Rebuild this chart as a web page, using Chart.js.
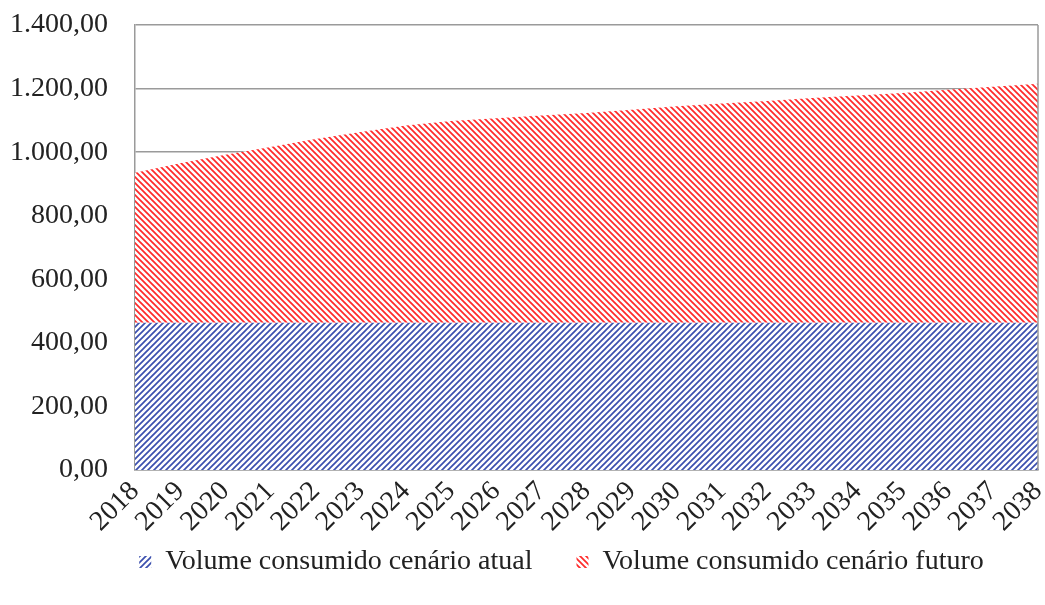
<!DOCTYPE html>
<html>
<head>
<meta charset="utf-8">
<script src="https://cdn.jsdelivr.net/npm/chart.js@4.4.1/dist/chart.umd.min.js"></script>
<style>
  html, body { margin: 0; padding: 0; background: #fff; }
  #wrap { width: 1045px; height: 605px; position: relative; }
</style>
</head>
<body>
<div id="wrap"><canvas id="chart"></canvas></div>
<script>
// dados
let anos = ['2018', '2019', '2020', '2021', '2022', '2023', '2024', '2025', '2026', '2027', '2028',
            '2029', '2030', '2031', '2032', '2033', '2034', '2035', '2036', '2037', '2038'];
let volumeAtual = [463, 463, 463, 463, 463, 463, 463, 463, 463, 463, 463,
                   463, 463, 463, 463, 463, 463, 463, 463, 463, 463];
let volumeFuturo = [472, 502, 529, 553, 578, 600, 621, 635, 644, 652, 660,
                    670, 681, 690, 698, 707, 715, 723, 733, 743, 752];
let nomesSeries = ['Volume consumido cenário atual', 'Volume consumido cenário futuro'];

// não cortar os rótulos dos eixos na caixa da escala
Chart.Scale.prototype._computeLabelArea = function() { return undefined; };

// hachuras
function hachura(cor, subindo) {
  let s = 6;
  let c = document.createElement('canvas');
  c.width = s; c.height = s;
  let g = c.getContext('2d');
  g.fillStyle = '#fff';
  g.fillRect(0, 0, s, s);
  g.strokeStyle = cor;
  g.lineWidth = 1.7;
  g.beginPath();
  if (subindo) {
    g.moveTo(-1, s + 1); g.lineTo(s + 1, -1);
    g.moveTo(-1, 1); g.lineTo(1, -1);
    g.moveTo(s - 1, s + 1); g.lineTo(s + 1, s - 1);
  } else {
    g.moveTo(-1, -1); g.lineTo(s + 1, s + 1);
    g.moveTo(s - 1, -1); g.lineTo(s + 1, 1);
    g.moveTo(-1, s - 1); g.lineTo(1, s + 1);
  }
  g.stroke();
  return document.getElementById('chart').getContext('2d').createPattern(c, 'repeat');
}

function formatoBR(v) {
  let partes = Math.abs(v).toFixed(2).split('.');
  let inteiro = partes[0].replace(/\B(?=(\d{3})+(?!\d))/g, '.');
  return (v < 0 ? '-' : '') + inteiro + ',' + partes[1];
}

let corGrade = '#9a9a9a';

// borda direita da área do gráfico
let bordaPlugin = {
  id: 'borda',
  afterDatasetsDraw(chart) {
    let a = chart.chartArea;
    let ctx = chart.ctx;
    ctx.save();
    ctx.strokeStyle = corGrade;
    ctx.lineWidth = 1.5;
    ctx.beginPath();
    ctx.moveTo(a.right, a.top);
    ctx.lineTo(a.right, a.bottom);
    ctx.stroke();
    ctx.restore();
  }
};

let fonte = 'Liberation Serif';

new Chart(document.getElementById('chart'), {
  type: 'line',
  data: {
    labels: anos,
    datasets: [{
      label: nomesSeries[0],
      data: volumeAtual,
      backgroundColor: hachura('#3b4fae', true),
      borderWidth: 0,
      pointRadius: 0,
      fill: 'origin'
    }, {
      label: nomesSeries[1],
      data: volumeFuturo,
      backgroundColor: hachura('#ff2a2a', false),
      borderWidth: 0,
      pointRadius: 0,
      fill: '-1'
    }]
  },
  options: {
    responsive: true,
    maintainAspectRatio: false,
    animation: false,
    layout: { padding: { top: 25, right: 7, left: 85, bottom: 19 } },
    plugins: {
      tooltip: { enabled: false },
      legend: {
        position: 'bottom',
        labels: {
          color: '#222',
          font: { family: fonte, size: 28 },
          boxWidth: 12,
          boxHeight: 12,
          padding: 44
        }
      }
    },
    scales: {
      x: {
        offset: false,
        afterFit(scale) {
          scale.height = 34;
          scale.paddingLeft = 0;
          scale.paddingRight = 0;
        },
        grid: { display: false, drawTicks: false },
        border: { display: true, color: corGrade, width: 1.5 },
        ticks: {
          color: '#222',
          font: { family: fonte, size: 28 },
          maxRotation: 45,
          minRotation: 45,
          autoSkip: false,
          padding: 5
        }
      },
      y: {
        stacked: true,
        min: 0,
        max: 1400,
        afterFit(scale) {
          scale.width = 50;
          scale.paddingTop = 0;
          scale.paddingBottom = 0;
        },
        grid: { color: corGrade, lineWidth: 1.5, drawTicks: false },
        border: { display: true, color: corGrade, width: 1.5 },
        ticks: {
          stepSize: 200,
          color: '#222',
          font: { family: fonte, size: 28 },
          padding: 27,
          callback: function(v) { return formatoBR(v); }
        }
      }
    }
  },
  plugins: [bordaPlugin]
});
</script>
</body>
</html>
